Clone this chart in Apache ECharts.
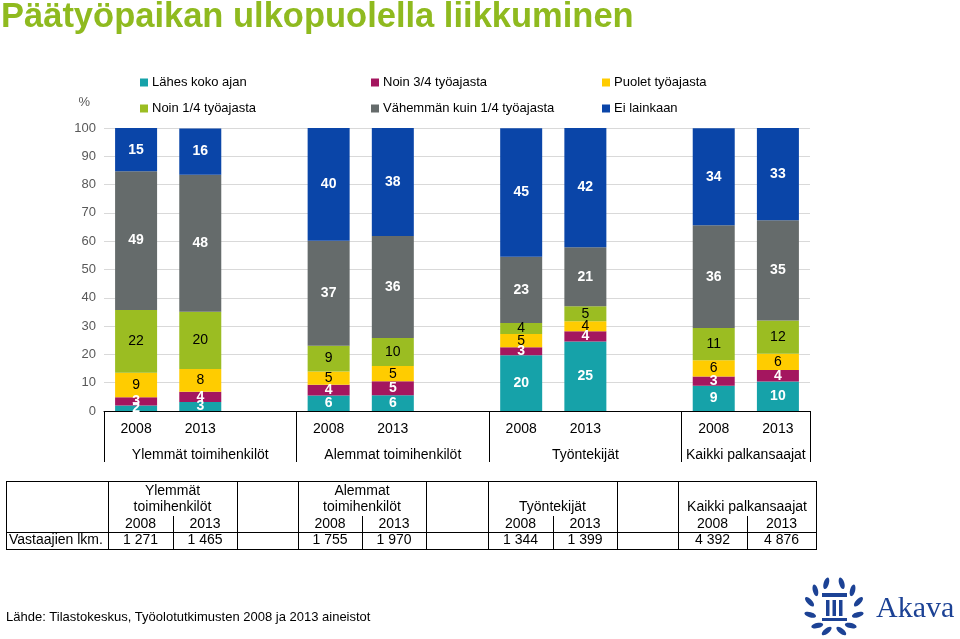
<!DOCTYPE html>
<html>
<head>
<meta charset="utf-8">
<script src="https://cdn.jsdelivr.net/npm/echarts@6/dist/echarts.min.js"></script>
<style>
html,body{margin:0;padding:0;background:#fff;}
#chart{width:960px;height:639px;}
</style>
</head>
<body>
<div id="chart"></div>
<script>
// ---- data ----
const years = ['2008', '2013', '2008', '2013', '2008', '2013', '2008', '2013'];
const groups = ['Ylemmät toimihenkilöt', 'Alemmat toimihenkilöt', 'Työntekijät', 'Kaikki palkansaajat'];
const seriesNames = ['Lähes koko ajan', 'Noin 3/4 työajasta', 'Puolet työajasta', 'Noin 1/4 työajasta', 'Vähemmän kuin 1/4 työajasta', 'Ei lainkaan'];
const lahesKokoAjan = [1.9, 3.2, 5.5, 5.6, 19.7, 24.6, 8.9, 10.4];
const noin34 = [3.0, 3.6, 3.8, 4.9, 2.8, 3.6, 3.3, 4.1];
const puolet = [8.6, 8.0, 4.7, 5.4, 4.7, 3.5, 5.7, 5.7];
const noin14 = [22.2, 20.3, 9.1, 9.9, 3.9, 5.3, 11.4, 11.8];
const vahemman = [49.0, 48.4, 37.1, 36.0, 23.4, 20.9, 36.3, 35.4];
const eiLainkaan = [15.3, 16.3, 39.8, 38.2, 45.4, 42.1, 34.3, 32.6];
const yTicks = [0, 10, 20, 30, 40, 50, 60, 70, 80, 90, 100];
const tableHeader = [['Ylemmät', 'toimihenkilöt'], ['Alemmat', 'toimihenkilöt'], ['', 'Työntekijät'], ['', 'Kaikki palkansaajat']];
const tableRowLabel = 'Vastaajien lkm.';
const tableCounts = ['1 271', '1 465', '1 755', '1 970', '1 344', '1 399', '4 392', '4 876'];
const sourceText = 'Lähde: Tilastokeskus, Työolotutkimusten 2008 ja 2013 aineistot';
const titleText = 'Päätyöpaikan ulkopuolella liikkuminen';

// ---- build ----
const allSeries = [lahesKokoAjan, noin34, puolet, noin14, vahemman, eiLainkaan];
const colors = ['#16a2a9', '#a4165f', '#ffcc00', '#9bbd22', '#656b6b', '#0a45a8'];
const labelColors = ['#fff', '#fff', '#000', '#000', '#fff', '#fff'];

function spread(arr, blank) {
  const out = [];
  arr.forEach((v, i) => {
    out.push(v);
    if (i % 2 === 1 && i < arr.length - 1) out.push(blank);
  });
  return out;
}
const xCats = spread(years, '');
// secondary axis: half-slot resolution (23 points across 11 slots)
const groupCats = new Array(23).fill('');
[3, 9, 15, 20].forEach((p, i) => { groupCats[p] = groups[i]; });
const sepIdx = [0, 6, 12, 18, 22];

const FONT = '"Liberation Sans", Arial, sans-serif';

const series = allSeries.map((arr, si) => ({
  name: seriesNames[si],
  type: 'bar',
  stack: 'all',
  barWidth: 42,
  data: spread(arr, '-'),
  itemStyle: { color: colors[si] },
  label: {
    show: true,
    position: 'inside',
    color: labelColors[si],
    fontFamily: FONT,
    fontSize: 14,
    fontWeight: labelColors[si] === '#fff' ? 'bold' : 'normal',
    formatter: p => Math.round(p.value)
  },
  emphasis: { disabled: true }
}));

// ---- table graphic ----
const g = [];
const T = { top: 481, rowDiv: 532, bottom: 549, yearTop: 516, left: 6, labelEnd: 108 };
const blocks = [[108, 237], [298, 426], [488, 617], [678, 816]];
function line(x1, y1, x2, y2) {
  g.push({ type: 'line', shape: { x1, y1, x2, y2 }, style: { stroke: '#000', lineWidth: 1 }, silent: true });
}
function txt(x, y, s, align) {
  g.push({ type: 'text', x, y, style: { text: s, font: '14px ' + FONT, fill: '#000', align: align || 'center', verticalAlign: 'middle' }, silent: true });
}
line(T.left, T.top + 0.5, 816, T.top + 0.5);
line(T.left, T.bottom + 0.5, 816, T.bottom + 0.5);
line(T.left, T.rowDiv + 0.5, 816, T.rowDiv + 0.5);
[T.left, ...blocks.flat()].forEach(x => line(x + 0.5, T.top, x + 0.5, T.bottom + 1));
txt(T.left + 3, 540, tableRowLabel, 'left');
blocks.forEach((b, i) => {
  const mid = Math.round((b[0] + b[1]) / 2);
  line(mid + 0.5, T.yearTop, mid + 0.5, T.bottom);
  txt((b[0] + b[1]) / 2, 491, tableHeader[i][0]);
  txt((b[0] + b[1]) / 2, 507, tableHeader[i][1]);
  txt((b[0] + mid) / 2, 524, years[i * 2]);
  txt((mid + b[1]) / 2, 524, years[i * 2 + 1]);
  txt((b[0] + mid) / 2, 540, tableCounts[i * 2]);
  txt((mid + b[1]) / 2, 540, tableCounts[i * 2 + 1]);
});
// source
g.push({ type: 'text', x: 6, y: 617, style: { text: sourceText, font: '13px ' + FONT, fill: '#000', verticalAlign: 'middle' }, silent: true });

// ---- Akava logo ----
const LB = '#1c4295';
const cx = 834, cy = 607, r = 25;
[-1, 1].forEach(side => {
  [18, 48, 78, 108, 138, 163].forEach(a => {
    const rad = a * Math.PI / 180;
    const x = cx + side * r * Math.sin(rad);
    const y = cy - r * Math.cos(rad);
    g.push({ type: 'ellipse', shape: { cx: x, cy: y, rx: 6, ry: 2.6 },
      rotation: -side * (rad + Math.PI / 2 - 0.6), originX: x, originY: y,
      style: { fill: LB }, silent: true });
  });
});
g.push({ type: 'rect', shape: { x: 822, y: 593, width: 25, height: 4 }, style: { fill: LB }, silent: true });
[826, 832.5, 839].forEach(x => g.push({ type: 'rect', shape: { x, y: 600, width: 3.5, height: 16 }, style: { fill: LB }, silent: true }));
g.push({ type: 'rect', shape: { x: 822, y: 618, width: 25, height: 3 }, style: { fill: LB }, silent: true });
g.push({ type: 'text', x: 876, y: 609, style: { text: 'Akava', font: '30px "Liberation Serif", "DejaVu Serif", serif', fill: LB, verticalAlign: 'middle' }, silent: true });

const legendBase = {
  orient: 'vertical', padding: 0, itemGap: 13, itemWidth: 8, itemHeight: 8, icon: 'rect',
  selectedMode: false,
  textStyle: { fontFamily: FONT, fontSize: 13, color: '#000', padding: [0, 0, 0, -1] }
};

const option = {
  animation: false,
  textStyle: { fontFamily: FONT },
  title: {
    text: titleText, left: 0, top: 0, padding: [0, 0, 0, 1],
    textStyle: { fontFamily: FONT, fontSize: 34.5, fontWeight: 'bold', color: '#8fba1f' }
  },
  legend: [
    Object.assign({}, legendBase, { left: 140, top: 76, data: [seriesNames[0], seriesNames[3]] }),
    Object.assign({}, legendBase, { left: 371, top: 76, data: [seriesNames[1], seriesNames[4]] }),
    Object.assign({}, legendBase, { left: 602, top: 76, data: [seriesNames[2], seriesNames[5]] })
  ],
  grid: { left: 104, right: 150, top: 128, bottom: 228, containLabel: false },
  xAxis: [
    {
      type: 'category', data: xCats, position: 'bottom',
      axisLine: { show: true, lineStyle: { color: '#000', width: 1 } },
      axisTick: { show: false },
      axisLabel: { interval: 0, fontSize: 14, color: '#000', margin: 11, fontFamily: FONT }
    },
    {
      type: 'category', data: groupCats, position: 'bottom', boundaryGap: false,
      axisLine: { show: false },
      axisTick: { show: true, length: 51, interval: (idx) => sepIdx.includes(idx), lineStyle: { color: '#000', width: 1 } },
      axisLabel: { interval: 0, fontSize: 14, color: '#000', margin: 37, fontFamily: FONT }
    }
  ],
  yAxis: {
    type: 'value', min: yTicks[0], max: yTicks[yTicks.length - 1], interval: 10,
    name: '%', nameLocation: 'end', nameGap: 19,
    nameTextStyle: { color: '#595959', fontSize: 13, align: 'right', padding: [0, 14, 0, 0], fontFamily: FONT },
    axisLine: { show: false }, axisTick: { show: false },
    axisLabel: { color: '#595959', fontSize: 13, margin: 8, fontFamily: FONT },
    splitLine: { lineStyle: { color: '#d9d9d9', width: 1 } }
  },
  series: series,
  graphic: g
};

const chart = echarts.init(document.getElementById('chart'), null, { renderer: 'canvas' });
chart.setOption(option);
</script>
</body>
</html>
